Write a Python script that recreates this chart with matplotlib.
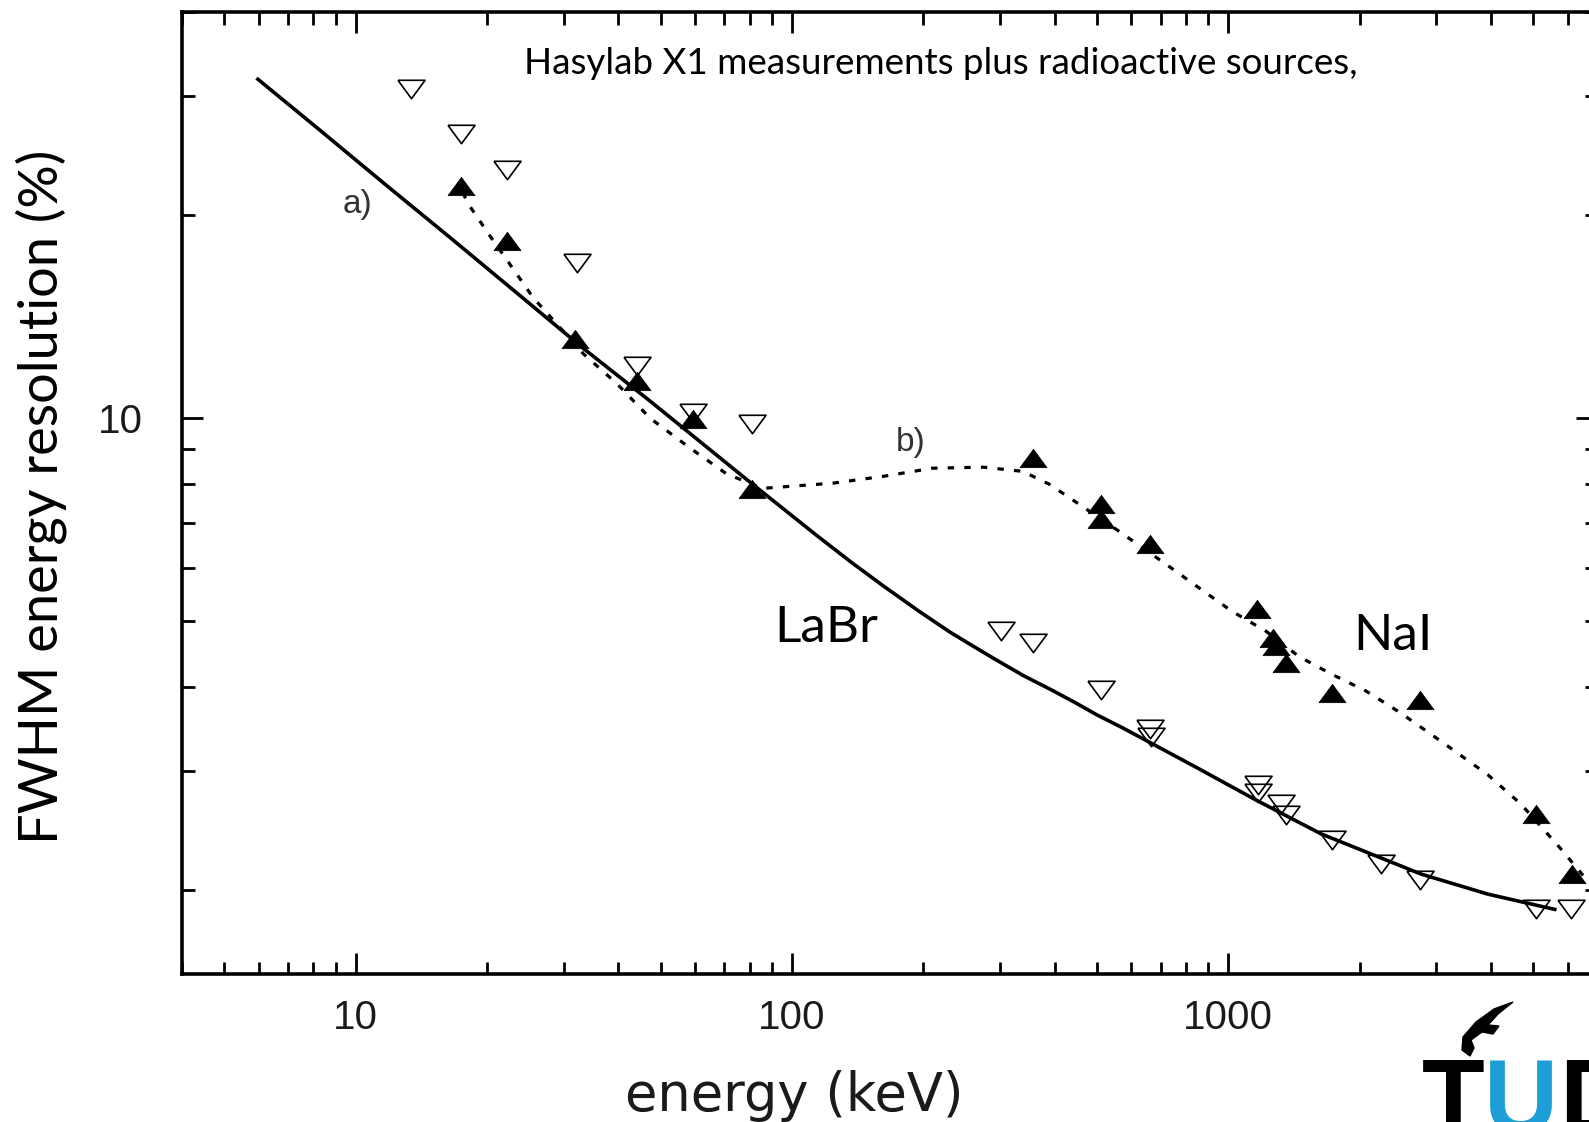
import matplotlib
matplotlib.use("Agg")
import matplotlib.pyplot as plt
from matplotlib.ticker import LogLocator, NullFormatter, FixedLocator, FixedFormatter
from matplotlib.patches import Polygon

# LaBr measurements (open, down triangles): energy keV, FWHM %
labr_e = [13.4, 17.4, 22.2, 32.2, 44.2, 59.4, 81.0, 302, 356, 512, 663, 666,
          1171, 1171, 1322, 1357, 1730, 2239, 2750, 5070, 6100]
labr_r = [30.8, 26.4, 23.3, 17.0, 11.95, 10.17, 9.80, 4.83, 4.64, 3.96, 3.46, 3.37,
          2.86, 2.78, 2.68, 2.58, 2.37, 2.18, 2.07, 1.87, 1.87]

# NaI measurements (filled, up triangles)
nai_e = [17.4, 22.2, 31.9, 44.2, 59.4, 81.0, 356, 512, 512, 663, 1165, 1268,
         1288, 1357, 1730, 2750, 5070, 6130]
nai_r = [22.1, 18.3, 13.1, 11.35, 9.97, 7.84, 8.72, 7.45, 7.08, 6.5, 5.21, 4.72,
         4.59, 4.33, 3.91, 3.82, 2.59, 2.11]

# curve a) LaBr fit (solid)
fit_a_e = [5.97, 8.18, 11.6, 16.5, 23.5, 33.2, 47.3, 80.1, 114, 137, 162, 195,
           230, 262, 296, 340, 389, 445, 501, 575, 659, 850, 1153, 1632, 2764,
           3936, 5601]
fit_a_r = [31.8, 26.9, 22.3, 18.5, 15.3, 12.7, 10.6, 8.04, 6.70, 6.11, 5.64, 5.18,
           4.82, 4.58, 4.37, 4.15, 3.97, 3.79, 3.63, 3.47, 3.31, 3.03, 2.72, 2.42,
           2.11, 1.97, 1.87]

# curve b) NaI guide (dotted)
fit_b_e = [17.6, 18.1, 20.0, 22.3, 25.5, 33.3, 39.8, 47.3, 58.4, 71.0, 85.8, 124,
           162, 210, 274, 338, 389, 463, 554, 721, 858, 1021, 1222, 1454, 1730,
           2069, 2462, 3072, 3936, 4683, 5781, 6665]
fit_b_r = [21.6, 20.8, 18.9, 17.1, 15.1, 12.45, 11.23, 10.0, 9.03, 8.26, 7.87, 8.01,
           8.20, 8.43, 8.46, 8.34, 7.98, 7.40, 6.84, 6.07, 5.60, 5.17, 4.83, 4.43, 4.17,
           3.94, 3.67, 3.32, 2.96, 2.68, 2.30, 2.06]

W, H = 1589, 1122
fig = plt.figure(figsize=(W / 100, H / 100), dpi=100)
ax = fig.add_axes([182 / W, 148 / H, (1597 - 182) / W, (1110 - 148) / H])

up = [(-1, -0.68), (1, -0.68), (0, 0.68), (-1, -0.68)]
down = [(-1, 0.68), (1, 0.68), (0, -0.68), (-1, 0.68)]

ax.plot(fit_a_e, fit_a_r, color="black", lw=2.6, zorder=2)
ax.plot(fit_b_e, fit_b_r, color="black", lw=2.3, linestyle=(0, (2.0, 3.2)), zorder=2)
ax.plot(labr_e, labr_r, linestyle="none", marker=down, ms=19.5,
        mfc="none", mec="black", mew=1.2, zorder=3)
ax.plot(nai_e, nai_r, linestyle="none", marker=up, ms=19.5,
        mfc="black", mec="black", mew=0.5, zorder=4)

ax.set_xscale("log")
ax.set_yscale("log")
ax.set_xlim(4, 7000)
ax.set_ylim(1.5, 40)

ax.xaxis.set_major_locator(FixedLocator([10, 100, 1000]))
ax.xaxis.set_major_formatter(FixedFormatter(["10", "100", "1000"]))
ax.xaxis.set_minor_locator(LogLocator(base=10, subs=range(2, 10)))
ax.xaxis.set_minor_formatter(NullFormatter())
ax.yaxis.set_major_locator(FixedLocator([10]))
ax.yaxis.set_major_formatter(FixedFormatter(["10"]))
ax.yaxis.set_minor_locator(LogLocator(base=10, subs=range(2, 10)))
ax.yaxis.set_minor_formatter(NullFormatter())

ax.tick_params(which="both", direction="in", top=True, right=True, width=2.0,
               color="black")
ax.tick_params(which="major", length=15)
ax.tick_params(which="minor", length=9)
ax.tick_params(axis="x", which="major", pad=18, labelsize=29, labelcolor="#1a1a1a")
ax.tick_params(axis="y", which="major", pad=28, labelsize=29, labelcolor="#1a1a1a")
for lab in ax.get_xticklabels() + ax.get_yticklabels():
    lab.set_fontfamily("Liberation Sans")
for s in ax.spines.values():
    s.set_linewidth(2.6)

# axis titles
fig.text(794 / W, 1 - 1096 / H, "energy (keV)", ha="center", va="center",
         fontsize=38, family="DejaVu Sans", color="#1a1a1a")
fig.text(41 / W, 1 - 497 / H, "FWHM energy resolution (%)", rotation=90,
         ha="center", va="center", fontsize=39, family="Lato")

fig.text(524 / W, 1 - 74 / H, "Hasylab X1 measurements plus radioactive sources,",
         ha="left", va="baseline", fontsize=26.5, family="Lato")
fig.text(826 / W, 1 - 628 / H, "LaBr", ha="center", va="center", fontsize=37,
         family="Lato")
fig.text(1393 / W, 1 - 636 / H, "NaI", ha="center", va="center", fontsize=37,
         family="Lato")
fig.text(357 / W, 1 - 204 / H, "a)", ha="center", va="center", fontsize=24,
         family="Liberation Sans", color="#333333")
fig.text(911 / W, 1 - 443 / H, "b)", ha="center", va="center", fontsize=24,
         family="Liberation Sans", color="#333333")

# TU Delft logo (cut off at the corner)
fig.text(1422 / W, 1 - 1132 / H, "T", ha="left", va="baseline", fontsize=74,
         fontweight="bold", family="Liberation Sans", color="black")
fig.text(1484 / W, 1 - 1132 / H, "U", ha="left", va="baseline", fontsize=74,
         fontweight="bold", family="Liberation Sans", color="#1E9ED6")
fig.text(1559 / W, 1 - 1132 / H, "D", ha="left", va="baseline", fontsize=74,
         fontweight="bold", family="Liberation Sans", color="black")
flame = [(1513, 1002), (1494, 1009), (1476, 1022), (1463, 1037), (1462, 1050),
         (1470, 1056), (1474, 1048), (1471, 1040), (1482, 1032), (1493, 1034),
         (1499, 1026), (1488, 1025), (1498, 1014)]
fig.patches.append(Polygon([(x / W, 1 - y / H) for x, y in flame], closed=True,
                           transform=fig.transFigure, color="black", figure=fig))

fig.savefig("out.png", dpi=100)
